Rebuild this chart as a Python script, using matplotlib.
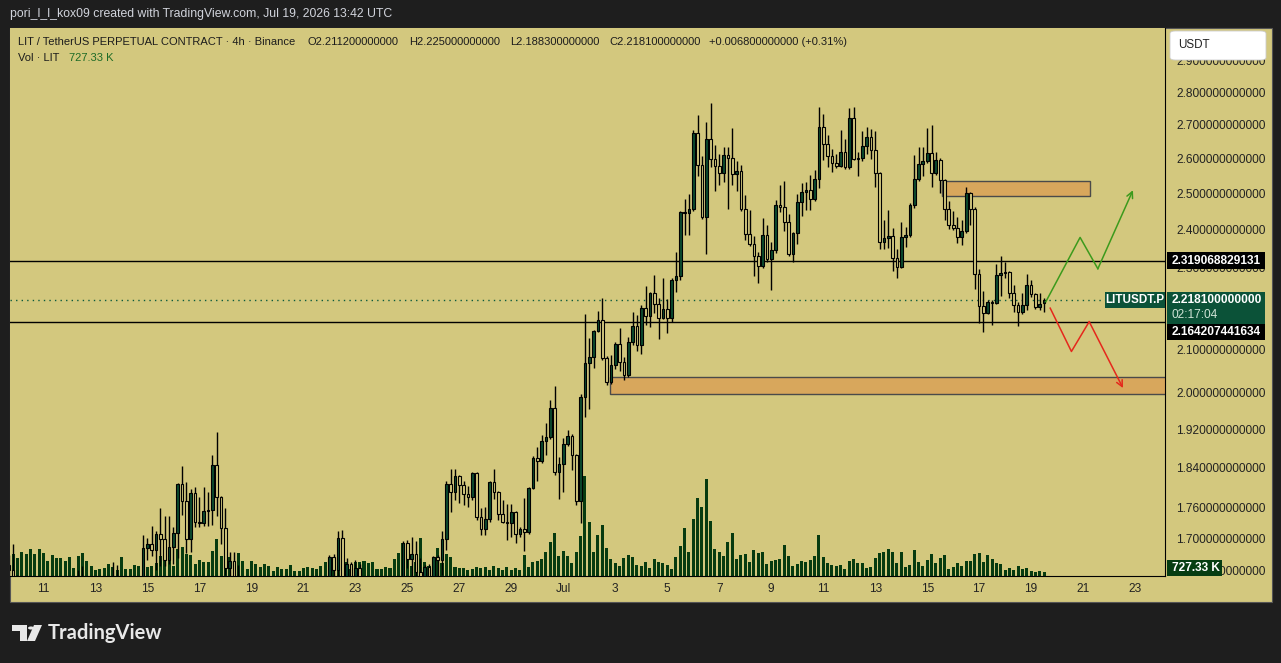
import numpy as np
import pandas as pd
import matplotlib
matplotlib.use('Agg')
import matplotlib.pyplot as plt
from matplotlib.patches import Rectangle, Polygon, Circle, FancyBboxPatch
from matplotlib.ticker import FixedLocator, FixedFormatter, NullLocator

plt.rcParams['font.family'] = ['Liberation Sans', 'DejaVu Sans']

# 4h candles, first one Jun 9 16:00
first_candle = '2026-06-09 16:00'

opens = [
    1.650, 1.640, 1.628, 1.612, 1.606, 1.598, 1.607, 1.600, 1.590, 1.598,
    1.603, 1.596, 1.600, 1.606, 1.610, 1.604, 1.612, 1.620, 1.615, 1.608,
    1.612, 1.610, 1.614, 1.618, 1.622, 1.626, 1.620, 1.606, 1.610, 1.614,
    1.618, 1.625, 1.681, 1.690, 1.677, 1.708, 1.698, 1.659, 1.683, 1.710,
    1.807, 1.773, 1.698, 1.789, 1.731, 1.729, 1.753, 1.755, 1.846, 1.781,
    1.720, 1.645, 1.657, 1.628, 1.612, 1.598, 1.603, 1.588, 1.580, 1.586,
    1.582, 1.590, 1.594, 1.588, 1.592, 1.598, 1.594, 1.600, 1.596, 1.602,
    1.606, 1.600, 1.608, 1.612, 1.618, 1.664, 1.640, 1.700, 1.620, 1.652,
    1.622, 1.645, 1.618, 1.602, 1.608, 1.600, 1.596, 1.600, 1.604, 1.608,
    1.614, 1.620, 1.692, 1.661, 1.670, 1.638, 1.615, 1.646, 1.622, 1.664,
    1.660, 1.698, 1.807, 1.791, 1.823, 1.805, 1.787, 1.781, 1.829, 1.741,
    1.718, 1.737, 1.811, 1.791, 1.747, 1.731, 1.729, 1.751, 1.708, 1.718,
    1.712, 1.799, 1.860, 1.854, 1.896, 1.904, 1.967, 1.831, 1.848, 1.890,
    1.907, 1.866, 1.773, 1.991, 2.068, 2.082, 2.143, 2.170, 2.080, 2.024,
    2.063, 2.113, 2.070, 2.040, 2.117, 2.155, 2.110, 2.199, 2.180, 2.236,
    2.209, 2.175, 2.197, 2.175, 2.269, 2.279, 2.449, 2.446, 2.457, 2.675,
    2.581, 2.435, 2.657, 2.598, 2.578, 2.558, 2.610, 2.601, 2.555, 2.564,
    2.457, 2.389, 2.363, 2.331, 2.305, 2.386, 2.323, 2.347, 2.468, 2.463,
    2.421, 2.337, 2.392, 2.476, 2.504, 2.510, 2.485, 2.541, 2.693, 2.642,
    2.607, 2.586, 2.578, 2.618, 2.575, 2.720, 2.598, 2.601, 2.636, 2.663,
    2.624, 2.558, 2.368, 2.378, 2.384, 2.326, 2.303, 2.381, 2.386, 2.468,
    2.541, 2.584, 2.592, 2.615, 2.558, 2.595, 2.538, 2.457, 2.413, 2.405,
    2.381, 2.397, 2.502, 2.457, 2.284, 2.204, 2.187, 2.214, 2.212, 2.282,
    2.287, 2.290, 2.236, 2.207, 2.189, 2.207, 2.256, 2.234, 2.202, 2.2112,
]
highs = [
    1.668, 1.689, 1.632, 1.625, 1.618, 1.615, 1.620, 1.612, 1.605, 1.610,
    1.615, 1.608, 1.614, 1.618, 1.624, 1.616, 1.641, 1.648, 1.628, 1.620,
    1.622, 1.620, 1.626, 1.630, 1.655, 1.650, 1.630, 1.618, 1.622, 1.626,
    1.630, 1.706, 1.700, 1.723, 1.714, 1.759, 1.743, 1.743, 1.721, 1.809,
    1.843, 1.811, 1.797, 1.801, 1.781, 1.801, 1.791, 1.865, 1.915, 1.783,
    1.759, 1.674, 1.674, 1.650, 1.625, 1.610, 1.615, 1.600, 1.594, 1.600,
    1.596, 1.602, 1.606, 1.600, 1.604, 1.612, 1.604, 1.610, 1.608, 1.614,
    1.618, 1.612, 1.622, 1.626, 1.668, 1.670, 1.714, 1.716, 1.663, 1.656,
    1.659, 1.652, 1.628, 1.615, 1.620, 1.610, 1.606, 1.612, 1.616, 1.622,
    1.628, 1.694, 1.696, 1.702, 1.694, 1.663, 1.650, 1.652, 1.666, 1.668,
    1.714, 1.813, 1.837, 1.837, 1.825, 1.813, 1.803, 1.831, 1.831, 1.759,
    1.761, 1.813, 1.837, 1.793, 1.775, 1.767, 1.767, 1.753, 1.722, 1.779,
    1.801, 1.864, 1.883, 1.909, 1.934, 1.984, 2.015, 1.862, 1.902, 1.919,
    1.911, 1.868, 1.998, 2.185, 2.127, 2.146, 2.192, 2.224, 2.085, 2.087,
    2.117, 2.151, 2.082, 2.130, 2.189, 2.182, 2.207, 2.254, 2.239, 2.282,
    2.224, 2.274, 2.221, 2.274, 2.342, 2.452, 2.485, 2.499, 2.684, 2.729,
    2.606, 2.708, 2.766, 2.639, 2.612, 2.633, 2.633, 2.690, 2.592, 2.581,
    2.496, 2.454, 2.384, 2.342, 2.432, 2.413, 2.368, 2.482, 2.524, 2.535,
    2.443, 2.394, 2.499, 2.529, 2.532, 2.552, 2.567, 2.754, 2.733, 2.669,
    2.627, 2.612, 2.684, 2.657, 2.751, 2.754, 2.618, 2.681, 2.693, 2.687,
    2.681, 2.560, 2.427, 2.454, 2.405, 2.350, 2.421, 2.408, 2.474, 2.609,
    2.633, 2.633, 2.690, 2.699, 2.618, 2.601, 2.541, 2.479, 2.451, 2.435,
    2.427, 2.518, 2.504, 2.463, 2.297, 2.241, 2.219, 2.219, 2.310, 2.331,
    2.316, 2.292, 2.256, 2.214, 2.236, 2.284, 2.269, 2.236, 2.236, 2.225,
]
lows = [
    1.628, 1.622, 1.600, 1.598, 1.590, 1.585, 1.595, 1.580, 1.582, 1.590,
    1.592, 1.588, 1.594, 1.598, 1.600, 1.598, 1.605, 1.608, 1.600, 1.600,
    1.604, 1.602, 1.606, 1.610, 1.612, 1.614, 1.596, 1.598, 1.602, 1.606,
    1.610, 1.620, 1.659, 1.666, 1.641, 1.648, 1.648, 1.652, 1.652, 1.663,
    1.745, 1.672, 1.674, 1.722, 1.722, 1.723, 1.723, 1.725, 1.743, 1.690,
    1.632, 1.625, 1.615, 1.600, 1.590, 1.585, 1.580, 1.572, 1.570, 1.575,
    1.572, 1.582, 1.585, 1.578, 1.584, 1.588, 1.586, 1.590, 1.586, 1.592,
    1.596, 1.592, 1.598, 1.602, 1.606, 1.622, 1.628, 1.615, 1.610, 1.612,
    1.615, 1.610, 1.595, 1.590, 1.594, 1.588, 1.585, 1.590, 1.595, 1.598,
    1.600, 1.612, 1.645, 1.630, 1.615, 1.610, 1.605, 1.612, 1.615, 1.628,
    1.632, 1.677, 1.751, 1.775, 1.769, 1.765, 1.761, 1.775, 1.735, 1.706,
    1.706, 1.731, 1.777, 1.735, 1.729, 1.696, 1.702, 1.692, 1.702, 1.676,
    1.708, 1.797, 1.813, 1.850, 1.866, 1.900, 1.825, 1.777, 1.791, 1.885,
    1.835, 1.765, 1.729, 1.947, 1.965, 2.057, 2.140, 2.075, 2.017, 2.020,
    2.055, 2.050, 2.030, 2.035, 2.110, 2.096, 2.089, 2.158, 2.153, 2.187,
    2.124, 2.172, 2.139, 2.165, 2.239, 2.269, 2.386, 2.386, 2.452, 2.549,
    2.430, 2.337, 2.575, 2.507, 2.524, 2.532, 2.457, 2.524, 2.507, 2.450,
    2.373, 2.357, 2.279, 2.261, 2.300, 2.316, 2.244, 2.340, 2.449, 2.397,
    2.330, 2.316, 2.363, 2.438, 2.454, 2.454, 2.480, 2.516, 2.595, 2.575,
    2.561, 2.572, 2.575, 2.569, 2.569, 2.595, 2.549, 2.592, 2.612, 2.598,
    2.518, 2.350, 2.350, 2.352, 2.292, 2.274, 2.300, 2.355, 2.381, 2.460,
    2.535, 2.549, 2.587, 2.518, 2.552, 2.502, 2.427, 2.402, 2.400, 2.365,
    2.360, 2.392, 2.413, 2.246, 2.163, 2.141, 2.185, 2.158, 2.209, 2.229,
    2.275, 2.224, 2.189, 2.155, 2.185, 2.194, 2.226, 2.197, 2.195, 2.1883,
]
closes = [
    1.640, 1.628, 1.612, 1.606, 1.598, 1.607, 1.600, 1.590, 1.598, 1.603,
    1.596, 1.600, 1.606, 1.610, 1.604, 1.612, 1.620, 1.615, 1.608, 1.612,
    1.610, 1.614, 1.618, 1.622, 1.626, 1.620, 1.606, 1.610, 1.614, 1.618,
    1.625, 1.681, 1.690, 1.677, 1.708, 1.698, 1.659, 1.683, 1.710, 1.807,
    1.773, 1.698, 1.789, 1.731, 1.729, 1.753, 1.755, 1.846, 1.781, 1.720,
    1.645, 1.657, 1.628, 1.612, 1.598, 1.603, 1.588, 1.580, 1.586, 1.582,
    1.590, 1.594, 1.588, 1.592, 1.598, 1.594, 1.600, 1.596, 1.602, 1.606,
    1.600, 1.608, 1.612, 1.618, 1.664, 1.640, 1.700, 1.620, 1.652, 1.622,
    1.645, 1.618, 1.602, 1.608, 1.600, 1.596, 1.600, 1.604, 1.608, 1.614,
    1.620, 1.692, 1.661, 1.670, 1.638, 1.615, 1.646, 1.622, 1.664, 1.660,
    1.698, 1.807, 1.791, 1.823, 1.805, 1.787, 1.781, 1.829, 1.741, 1.718,
    1.737, 1.811, 1.791, 1.747, 1.731, 1.729, 1.751, 1.708, 1.718, 1.712,
    1.799, 1.860, 1.854, 1.896, 1.904, 1.967, 1.831, 1.848, 1.890, 1.907,
    1.866, 1.773, 1.991, 2.068, 2.082, 2.143, 2.170, 2.080, 2.024, 2.063,
    2.113, 2.070, 2.040, 2.117, 2.155, 2.110, 2.199, 2.180, 2.236, 2.209,
    2.175, 2.197, 2.175, 2.269, 2.279, 2.449, 2.446, 2.457, 2.675, 2.581,
    2.435, 2.657, 2.598, 2.578, 2.558, 2.610, 2.601, 2.555, 2.564, 2.457,
    2.389, 2.363, 2.331, 2.305, 2.386, 2.323, 2.347, 2.468, 2.463, 2.421,
    2.337, 2.392, 2.476, 2.504, 2.510, 2.485, 2.541, 2.693, 2.642, 2.607,
    2.586, 2.578, 2.618, 2.575, 2.720, 2.598, 2.601, 2.636, 2.663, 2.624,
    2.558, 2.368, 2.378, 2.384, 2.326, 2.303, 2.381, 2.386, 2.468, 2.541,
    2.584, 2.592, 2.615, 2.558, 2.595, 2.538, 2.457, 2.413, 2.405, 2.381,
    2.397, 2.502, 2.457, 2.284, 2.204, 2.187, 2.214, 2.212, 2.282, 2.287,
    2.290, 2.236, 2.207, 2.189, 2.207, 2.256, 2.234, 2.202, 2.209, 2.2181,
]
# volume in thousands of LIT
volumes = [
    6630, 3740, 3060, 4080, 3740, 4590, 3740, 4590, 3910, 2550,
    3570, 3060, 3060, 2550, 3230, 1360, 3400, 3910, 2550, 1700,
    1020, 1190, 1360, 2040, 1530, 1020, 3230, 1190, 1190, 1870,
    1700, 1530, 1530, 1700, 2210, 3400, 2550, 3400, 1700, 4590,
    4930, 3740, 3570, 2040, 2720, 2380, 2380, 4250, 6290, 3400,
    1190, 3230, 2380, 3910, 2550, 1190, 2550, 2040, 1530, 2040,
    1700, 850, 1530, 1190, 1190, 1870, 850, 850, 1360, 1530,
    1360, 1190, 1700, 2380, 3060, 3230, 2550, 2380, 2380, 1190,
    2380, 2380, 2550, 2210, 2380, 1190, 1190, 1530, 1360, 2890,
    3910, 5610, 2720, 1700, 2380, 6460, 2380, 1700, 2890, 4760,
    2210, 3740, 3230, 1530, 1360, 1360, 1020, 1190, 1530, 1360,
    1530, 1020, 1700, 1360, 1020, 1530, 1020, 1360, 1020, 3570,
    1530, 2380, 2550, 2890, 4080, 5780, 7310, 3400, 4250, 3400,
    2210, 4080, 6800, 17000, 9180, 4080, 6970, 8670, 4760, 2890,
    2210, 1700, 3060, 3570, 3230, 1870, 1700, 2380, 1360, 2890,
    2380, 2210, 1870, 1190, 3230, 5100, 8160, 4080, 9690, 13260,
    11730, 16490, 9350, 4590, 4080, 3400, 5780, 7310, 2890, 3570,
    3740, 2380, 4420, 3910, 4080, 2040, 2550, 2720, 2890, 5270,
    3400, 1700, 2040, 2550, 2380, 2720, 3400, 6970, 3230, 2210,
    1870, 1700, 1870, 1190, 2550, 2890, 2210, 2210, 1360, 1530,
    3060, 3910, 4080, 4590, 4080, 2210, 4080, 1530, 1870, 4420,
    2380, 1700, 2720, 3740, 2210, 3060, 3570, 1190, 1530, 2210,
    1700, 2550, 2550, 3740, 3910, 2380, 3570, 2890, 2210, 2040,
    1020, 1360, 1020, 1700, 1190, 1360, 850, 680, 850, 727.33,
]

# 2.2 sits under the last-price tag and is not shown
price_ticks = [1.64, 1.70, 1.76, 1.84, 1.92, 2.0, 2.1, 2.3, 2.4, 2.5, 2.6, 2.7, 2.8, 2.9]
level_hi = 2.319068829131
level_lo = 2.164207441634
last_price = 2.2181
# drawn zones: (start candle, end candle, low, high)
zone_top = (215.4, 249.5, 2.494, 2.536)
zone_bottom = (138.7, 300.0, 1.998, 2.036)
# hand drawn projection paths
green_path_x = [239.4, 247.3, 251.4, 259.5]
green_path_y = [2.215, 2.380, 2.298, 2.509]
red_path_x = [240.4, 245.3, 249.4, 257.2]
red_path_y = [2.199, 2.095, 2.166, 2.011]

W, H = 1281, 663
DARK = '#1e1e1e'
KHAKI = '#d3c87e'
UP_FILL = '#0b4a2e'
VOL_COL = '#073b10'
LABEL_GREEN = '#0b5238'
TXT = '#222222'


def fx(px):
    return px / W


def fy(py):
    return 1 - py / H


opens = np.array(opens)
highs = np.array(highs)
lows = np.array(lows)
closes = np.array(closes)
volumes = np.array(volumes)
x = np.arange(len(closes))
times = pd.date_range(first_candle, periods=len(closes), freq='4h')

fig = plt.figure(figsize=(W / 100, H / 100), dpi=100, facecolor=DARK)
fig.patches.append(Rectangle((fx(10), fy(602)), fx(1272) - fx(10), fy(28) - fy(602),
                             transform=fig.transFigure, facecolor=KHAKI,
                             edgecolor='#555555', lw=0.8, zorder=-1))

ax = fig.add_axes([fx(10), fy(576), fx(1165) - fx(10), fy(28) - fy(576)])
axv = ax.twinx()
ax.set_zorder(axv.get_zorder() + 1)
ax.patch.set_visible(False)
axv.patch.set_visible(True)
axv.patch.set_facecolor(KHAKI)

# volume
axv.bar(x, volumes, width=0.7, color=VOL_COL, lw=0)
axv.set_ylim(0, 548 * 170)
axv.yaxis.set_visible(False)
for s in axv.spines.values():
    s.set_visible(False)

# candles
up = closes >= opens
ax.vlines(x, lows, highs, color='black', lw=1, zorder=3)
ax.bar(x[up], (closes - opens)[up], bottom=opens[up], width=0.62,
       color=UP_FILL, edgecolor='black', lw=0.8, zorder=4)
ax.bar(x[~up], (opens - closes)[~up], bottom=closes[~up], width=0.62,
       color=KHAKI, edgecolor='black', lw=0.8, zorder=4)

ax.set_yscale('log')
ax.set_ylim(1.6298, 3.008)
ax.set_xlim(0.28, 266.9)

# levels
ax.axhline(level_hi, color='black', lw=1, zorder=2)
ax.axhline(level_lo, color='black', lw=1, zorder=2)
ax.axhline(last_price, color='#0b5a3c', lw=1, ls=(0, (1, 3)), zorder=2)

for z in (zone_top, zone_bottom):
    ax.add_patch(Rectangle((z[0], z[2]), z[1] - z[0], z[3] - z[2],
                           facecolor='#d8a75c', edgecolor='#4a4a4a', lw=1, zorder=2.5))

# projections
for px_, py_, col in ((green_path_x, green_path_y, '#3c9a1c'), (red_path_x, red_path_y, '#e5281c')):
    ax.plot(px_[:-1], py_[:-1], color=col, lw=1.1, zorder=5)
    ax.annotate('', xy=(px_[-1], py_[-1]), xytext=(px_[-2], py_[-2]),
                arrowprops=dict(arrowstyle='->', color=col, lw=1.1, mutation_scale=11,
                                shrinkA=0, shrinkB=0), zorder=5)

# axes styling
ax.yaxis.tick_right()
ax.yaxis.set_major_locator(FixedLocator(price_ticks))
ax.yaxis.set_major_formatter(FixedFormatter([f'{v:.12f}' for v in price_ticks]))
ax.yaxis.set_minor_locator(NullLocator())
ax.tick_params(axis='y', length=0, pad=8, labelsize=8.6, labelcolor=TXT)

label_days = pd.date_range('2026-06-11', '2026-07-23', freq='2D')
tick_pos = (label_days - times[0]) / pd.Timedelta('4h')
tick_lab = ['Jul' if d.day == 1 else str(d.day) for d in label_days]
ax.set_xticks(tick_pos)
ax.set_xticklabels(tick_lab)
ax.tick_params(axis='x', length=0, pad=5, labelsize=8.6, labelcolor=TXT)

for side in ('top', 'left'):
    ax.spines[side].set_visible(False)
ax.spines['right'].set_color('black')
ax.spines['bottom'].set_color('black')


def fig_y(price):
    return fig.transFigure.inverted().transform(ax.transData.transform((0, price)))[1]


def label_box(x0, x1, yc, h_up, h_dn, color):
    fig.patches.append(Rectangle((fx(x0), yc - h_dn / H), fx(x1) - fx(x0), (h_up + h_dn) / H,
                                 transform=fig.transFigure, facecolor=color,
                                 edgecolor='none', zorder=5))


# price labels on the scale
yc = fig_y(level_hi)
label_box(1167, 1265, yc, 8.5, 8.5, 'black')
fig.text(fx(1172), yc, f'{level_hi:.12f}', color='white', fontsize=8.6, weight='bold',
         va='center', zorder=6)

yc = fig_y(last_price)
label_box(1167, 1265, yc, 8, 24, LABEL_GREEN)
fig.text(fx(1172), yc, f'{last_price:.12f}', color='white', fontsize=8.6, weight='bold',
         va='center', zorder=6)
fig.text(fx(1172), yc - 15 / H, '02:17:04', color='#cfe3d6', fontsize=8.6,
         va='center', zorder=6)
label_box(1105, 1165, yc, 8, 8, LABEL_GREEN)
fig.text(fx(1135), yc, 'LITUSDT.P', color='white', fontsize=8.4, weight='bold',
         va='center', ha='center', zorder=6)

yc2 = yc - 32 / H
label_box(1167, 1265, yc2, 8, 8, 'black')
fig.text(fx(1172), yc2, f'{level_lo:.12f}', color='white', fontsize=8.6, weight='bold',
         va='center', zorder=6)

label_box(1167, 1222, fy(568), 8, 8, '#063d12')
fig.text(fx(1172), fy(568), '727.33 K', color='white', fontsize=8.6, weight='bold',
         va='center', zorder=6)

fig.patches.append(FancyBboxPatch((fx(1170), fy(60)), fx(1266) - fx(1170), fy(31) - fy(60),
                                  boxstyle='round,pad=0,rounding_size=0.004',
                                  transform=fig.transFigure, facecolor='white',
                                  edgecolor='#cccccc', lw=0.6, zorder=5))
fig.text(fx(1178), fy(45), 'USDT', color=TXT, fontsize=8.4, va='center', zorder=6)

# header texts
fig.text(fx(10), fy(14), 'pori_l_l_kox09 created with TradingView.com, Jul 19, 2026 13:42 UTC',
         color='#d1d4dc', fontsize=8.8, va='center')
legend_parts = [(18, 'LIT / TetherUS PERPETUAL CONTRACT · 4h · Binance'),
                (307, 'O2.211200000000'), (409, 'H2.225000000000'),
                (510, 'L2.188300000000'), (609, 'C2.218100000000'),
                (709, '+0.006800000000 (+0.31%)')]
for lx, txt in legend_parts:
    fig.text(fx(lx), fy(42), txt, color='#1c1c1c', fontsize=8.0, va='center')
fig.text(fx(18), fy(58), 'Vol · LIT', color='#1c1c1c', fontsize=8.0, va='center')
fig.text(fx(69), fy(58), '727.33 K', color='#1e6b26', fontsize=8.0, va='center')

# TradingView logo
logo = [(12, 625), (27, 625), (27, 641), (20, 641), (20, 631), (12, 631)]
fig.patches.append(Polygon([(fx(a), fy(b)) for a, b in logo], closed=True,
                           transform=fig.transFigure, facecolor='#e8e8e8', edgecolor='none'))
fig.patches.append(Circle((fx(31), fy(628)), 3 / W, transform=fig.transFigure,
                          facecolor='#e8e8e8', edgecolor='none'))
slash = [(34, 625), (42, 625), (35, 641), (27, 641)]
fig.patches.append(Polygon([(fx(a), fy(b)) for a, b in slash], closed=True,
                           transform=fig.transFigure, facecolor='#e8e8e8', edgecolor='none'))
fig.text(fx(48), fy(633), 'TradingView', color='#e8e8e8', fontsize=14.5, weight='bold',
         va='center', family=['Lato', 'DejaVu Sans'])

fig.savefig('out.png', dpi=100, facecolor=DARK)
